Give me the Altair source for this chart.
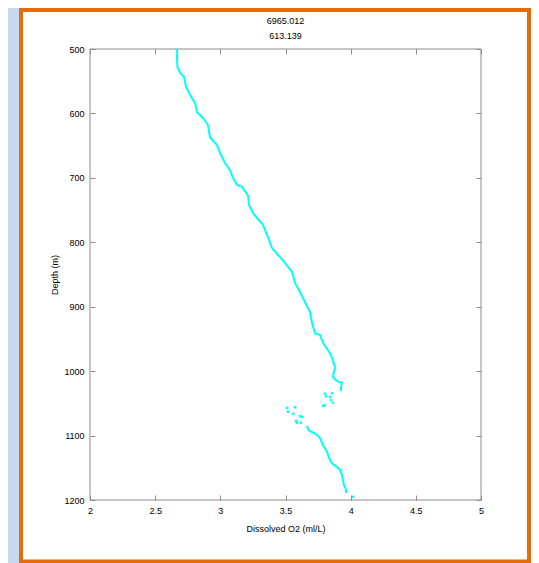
import altair as alt
import pandas as pd

# ---- data ----
# upper continuous part of the profile
seg_a_o2 = [2.668, 2.668, 2.671, 2.691, 2.721, 2.737, 2.767, 2.806, 2.821, 2.867,
            2.905, 2.921, 2.951, 2.974, 2.997, 3.036, 3.074, 3.097, 3.128, 3.166,
            3.212, 3.220, 3.251, 3.327, 3.366, 3.396, 3.458, 3.496, 3.550, 3.573,
            3.611, 3.650, 3.688, 3.696, 3.703, 3.726, 3.765, 3.788, 3.841, 3.864,
            3.880, 3.872, 3.864, 3.887, 3.911, 3.934, 3.926, 3.926]
seg_a_depth = [500, 517, 528, 537, 543, 559, 571, 584, 598, 607,
               618, 637, 644, 649, 661, 677, 688, 700, 711, 714,
               727, 742, 755, 773, 792, 809, 823, 832, 846, 863,
               877, 893, 908, 917, 925, 941, 944, 956, 972, 983,
               995, 1001, 1009, 1014, 1017, 1018, 1025, 1031]

# scattered samples
dots_o2 = [3.857, 3.803, 3.811, 3.841, 3.849, 3.864, 3.803, 3.788, 3.512, 3.573,
           3.519, 3.558, 3.611, 3.627, 3.581, 3.588, 3.619, 4.018]
dots_depth = [1034, 1035, 1039, 1040, 1045, 1049, 1053, 1054, 1057, 1056,
              1063, 1066, 1070, 1071, 1077, 1080, 1080, 1195]

# lower continuous part
seg_b_o2 = [3.665, 3.673, 3.688, 3.719, 3.742, 3.765, 3.788, 3.818, 3.834, 3.857,
            3.895, 3.918, 3.934, 3.941, 3.949, 3.964, 3.964]
seg_b_depth = [1085, 1090, 1093, 1096, 1099, 1104, 1115, 1125, 1135, 1143,
               1149, 1153, 1161, 1169, 1177, 1184, 1189]

x_ticks = [2, 2.5, 3, 3.5, 4, 4.5, 5]
y_ticks = [500, 600, 700, 800, 900, 1000, 1100, 1200]
title_lines = ["6965.012", "613.139"]
x_title = "Dissolved O2 (ml/L)"
y_title = "Depth (m)"

# ---- styling ----
W, H = 391, 451
FONT = "Liberation Sans"
GRAY = "#8c8c8c"
CYAN = "#00ffff"
ORANGE = "#E46C0A"
BG = "#C6D9F1"

line_df = pd.DataFrame({
    "o2": seg_a_o2 + seg_b_o2,
    "depth": seg_a_depth + seg_b_depth,
    "seg": ["a"] * len(seg_a_o2) + ["b"] * len(seg_b_o2),
})
dots_df = pd.DataFrame({"o2": dots_o2, "depth": dots_depth})

x_scale = alt.Scale(domain=[2, 5], nice=False, zero=False)
y_scale = alt.Scale(domain=[500, 1200], nice=False, zero=False, reverse=True)

x_axis = alt.Axis(values=x_ticks, format="~g", title=x_title, grid=True,
                  gridDash=[5, H - 10, 5, 3000], gridColor=GRAY, gridOpacity=1,
                  ticks=False, domain=False, labelFlush=False, labelPadding=6,
                  titlePadding=9, labelFont=FONT, labelFontSize=9,
                  labelColor="black", titleFont=FONT, titleFontSize=9,
                  titleFontWeight="normal", titleColor="black")
y_axis = alt.Axis(values=y_ticks, format="d", title=y_title, grid=True,
                  gridDash=[5, W - 10, 5, 3000], gridColor=GRAY, gridOpacity=1,
                  ticks=False, domain=False, labelPadding=6, titlePadding=4,
                  labelFont=FONT, labelFontSize=9, labelColor="black",
                  titleFont=FONT, titleFontSize=9, titleFontWeight="normal",
                  titleColor="black")

one_row = alt.Data(values=[{"k": 0}])

# light-blue surround drawn as a thick stroke outside the orange frame
surround = alt.Chart(one_row).mark_rect(
    fillOpacity=0, stroke=BG, strokeWidth=30
).encode(
    x=alt.value(-86), x2=alt.value(456), y=alt.value(-56), y2=alt.value(529.5)
)

frame = alt.Chart(one_row).mark_rect(
    fillOpacity=0, stroke=ORANGE, strokeWidth=4
).encode(
    x=alt.value(-69), x2=alt.value(439), y=alt.value(-39), y2=alt.value(512.5)
)

box = alt.Chart(one_row).mark_rect(
    fillOpacity=0, stroke=GRAY, strokeWidth=1
).encode(
    x=alt.value(0), x2=alt.value(W), y=alt.value(0), y2=alt.value(H)
)

title_df = pd.DataFrame({"t": ["\n".join(title_lines)]})
title = alt.Chart(title_df).mark_text(
    font=FONT, fontSize=9, color="black", align="center", baseline="top",
    lineBreak="\n", lineHeight=15
).encode(
    text="t:N", x=alt.value(W / 2), y=alt.value(-32)
)

line = alt.Chart(line_df).mark_line(color=CYAN, strokeWidth=2).encode(
    x=alt.X("o2:Q", scale=x_scale, axis=x_axis),
    y=alt.Y("depth:Q", scale=y_scale, axis=y_axis),
    detail="seg:N",
    order=alt.Order("depth:Q"),
)

dots = alt.Chart(dots_df).mark_square(color=CYAN, size=6, opacity=1).encode(
    x=alt.X("o2:Q", scale=x_scale, axis=x_axis),
    y=alt.Y("depth:Q", scale=y_scale, axis=y_axis),
)

chart = alt.layer(surround, frame, box, title, line, dots).properties(
    width=W,
    height=H,
    autosize=alt.AutoSizeParams(type="none"),
    padding={"left": 82, "top": 41, "right": 50, "bottom": 63},
    background="white",
).configure_view(stroke=None)

chart.save("out.html", embed_options={"renderer": "svg", "actions": False})
